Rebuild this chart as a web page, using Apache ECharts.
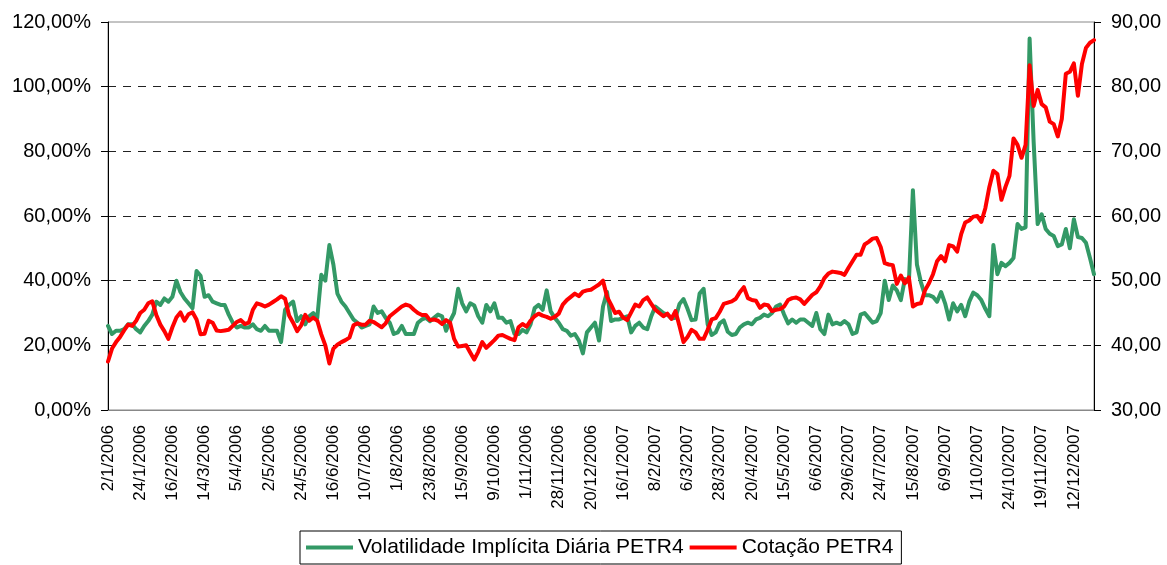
<!DOCTYPE html>
<html>
<head>
<meta charset="utf-8">
<title>Volatilidade x Cotação PETR4</title>
<script src="https://cdn.jsdelivr.net/npm/echarts@6/dist/echarts.min.js"></script>
<style>
  html, body { margin: 0; padding: 0; background: #fff; }
  #main { width: 1167px; height: 565px; }
</style>
</head>
<body>
<div id="main"></div>
<script>
// rótulos do eixo x (um a cada 16 pregões)
const tickDates = [
  '2/1/2006', '24/1/2006', '16/2/2006', '14/3/2006', '5/4/2006', '2/5/2006', '24/5/2006', '16/6/2006',
  '10/7/2006', '1/8/2006', '23/8/2006', '15/9/2006', '9/10/2006', '1/11/2006', '28/11/2006', '20/12/2006',
  '16/1/2007', '8/2/2007', '6/3/2007', '28/3/2007', '20/4/2007', '15/5/2007', '6/6/2007', '29/6/2007',
  '24/7/2007', '15/8/2007', '6/9/2007', '1/10/2007', '24/10/2007', '19/11/2007', '12/12/2007'
];
// pontos a cada 2 pregões -> 8 pontos entre rótulos
const pointsPerTick = 8;

// volatilidade implícita diária (%)
const volatilidade = [
  26, 23.5, 24.5, 24.5, 25, 26.5, 26.5, 25, 24, 26, 27.5, 29.5, 33.5, 32.5, 34.5, 33.5,
  35, 40, 36.5, 34.5, 33, 31.5, 43, 41.5, 35, 35.5, 33.5, 33, 32.5, 32.5, 29.5, 27,
  25.5, 26, 25.5, 25.5, 26.5, 25, 24.5, 26, 24.5, 24.5, 24.5, 21, 31, 32.5, 33.5, 27.5,
  29, 26.5, 29, 30, 28.5, 41.8, 40, 51, 45, 36, 33.5, 32, 30, 28, 27, 25.5,
  26, 26.5, 32, 30, 30.5, 28.5, 27, 23.5, 24, 26, 23.5, 23.5, 23.5, 27, 28, 28.5,
  27.5, 28.5, 29.5, 29, 24.5, 27.5, 30, 37.5, 33, 30.5, 33, 32.3, 29, 27, 32.5, 30.5,
  33, 28.5, 28.5, 27, 27.5, 23.5, 23.5, 24.8, 24, 26.5, 31.5, 32.5, 31, 37, 30.5, 28.5,
  27, 25, 24.5, 23, 23.5, 21.5, 17.5, 24, 25.5, 27, 21.5, 32, 36.5, 27.5, 28, 28,
  28.5, 29, 24, 26, 27, 25.5, 25, 29, 32, 31, 30, 29.5, 28.3, 28.5, 32.8, 34.3,
  31.3, 27.8, 28, 36, 37.5, 26.5, 23.2, 24, 26.8, 27.7, 24.2, 23.2, 23.5, 25.5, 26.5, 27,
  26.5, 28, 28.5, 29.5, 29, 30, 32, 32.6, 29.5, 26.8, 28, 27, 28, 28, 27, 26,
  30, 25, 23.5, 29.5, 26.5, 27, 26.5, 27.5, 26.5, 23.5, 24, 29.5, 30, 28.5, 27, 27.5,
  30, 40, 34, 38.5, 37, 34, 40.5, 39.5, 68, 45, 39.5, 35.5, 35.5, 35, 33.5, 36.5,
  33, 28, 33, 30.5, 32.5, 29, 33.5, 36.3, 35.5, 34, 31.3, 29, 51, 42, 45.5, 44.5,
  45.5, 47, 57.5, 56, 56.5, 114.9, 83, 57.5, 60.5, 56, 54.5, 53.8, 50.7, 51.2, 56, 50,
  59, 53.5, 53.2, 51.7, 47, 42
];

// cotação PETR4 (R$)
const cotacao = [
  37.5, 39.5, 40.5, 41.3, 42.3, 43.2, 43, 43.8, 45, 45.5, 46.5, 46.8, 44.7, 43.2, 42.2, 41,
  42.8, 44.3, 45.1, 43.8, 44.8, 45.1, 44, 41.7, 41.8, 43.8, 43.5, 42.3, 42.2, 42.3, 42.4, 43,
  43.6, 43.9, 43.3, 43.5, 45.5, 46.5, 46.3, 46, 46.3, 46.7, 47.1, 47.6, 47.2, 44.6, 43.5, 42.2,
  43.1, 44.7, 43.8, 44.3, 43.8, 41.7, 40, 37.2, 39.5, 40.1, 40.5, 40.8, 41.2, 43.1, 43.4, 43.2,
  43.2, 43.8, 43.6, 43.2, 42.8, 43.4, 44.5, 45, 45.5, 46, 46.3, 46.1, 45.5, 45, 44.7, 44.7,
  43.9, 44, 43.8, 43.3, 43.9, 43.5, 41, 39.8, 39.9, 40, 38.9, 37.8, 39, 40.5, 39.6, 40.2,
  40.8, 41.5, 41.6, 41.3, 41, 40.8, 42.8, 43.3, 42.9, 43.8, 44.5, 44.9, 44.6, 44.4, 44.1, 44.4,
  44.9, 46.3, 47, 47.5, 48, 47.6, 48.3, 48.5, 48.6, 49, 49.4, 50, 47.5, 46.3, 45, 45.2,
  44.3, 43.9, 45.1, 46.3, 46, 47, 47.4, 46.4, 45.5, 45, 44.5, 44.9, 44.1, 45.3, 43, 40.5,
  41.3, 42.4, 42, 41, 41, 42.4, 44, 44.2, 45.2, 46.4, 46.6, 46.8, 47.2, 48.2, 49, 47.3,
  47, 46.9, 45.8, 46.3, 46.2, 45.3, 45.5, 45.6, 46, 47, 47.3, 47.4, 47.1, 46.4, 47.1, 47.8,
  48.2, 49.1, 50.4, 51.1, 51.4, 51.3, 51.2, 50.9, 52, 53, 54, 54, 55.6, 56, 56.5, 56.6,
  55.2, 52.7, 52.5, 52.4, 49.5, 50.8, 49.6, 50.5, 46, 46.4, 46.5, 48.5, 49.6, 51, 53, 53.8,
  53, 55.5, 55.3, 54.5, 57.2, 59, 59.3, 59.9, 60, 59.1, 61.2, 64.5, 67, 66.5, 62.5, 64.5,
  66.2, 72, 71, 69, 71, 83.3, 77, 79.5, 77.3, 76.8, 74.6, 74.2, 72.3, 75, 82, 82.3,
  83.6, 78.6, 83.5, 86, 86.8, 87.2
];

const categories = cotacao.map((v, i) =>
  i % pointsPerTick === 0 ? (tickDates[i / pointsPerTick] || '') : ''
);

const fmt = (v) => v.toFixed(2).replace('.', ',');
const font = 'Liberation Sans, Arial, Helvetica, sans-serif';

const chart = echarts.init(document.getElementById('main'));
chart.setOption({
  animation: false,
  textStyle: { fontFamily: font },
  grid: {
    left: 108, right: 73, top: 22, bottom: 155,
    show: true, borderColor: '#888', borderWidth: 1
  },
  legend: {
    left: 300, top: 531,
    padding: [6, 8, 6, 6],
    itemGap: 6, itemWidth: 47, itemHeight: 4,
    icon: 'rect',
    borderColor: '#000', borderWidth: 1,
    textStyle: { fontSize: 21, color: '#000', fontFamily: font },
    data: ['Volatilidade Implícita Diária PETR4', 'Cotação PETR4']
  },
  xAxis: {
    type: 'category',
    data: categories,
    boundaryGap: false,
    axisLine: { lineStyle: { color: '#888' } },
    axisTick: { show: false },
    axisLabel: { interval: pointsPerTick - 1, rotate: 90, fontSize: 17, color: '#000', margin: 15 }
  },
  yAxis: [
    {
      type: 'value', position: 'left',
      min: 0, max: 120, interval: 20,
      axisLine: { show: true, lineStyle: { color: '#000' } },
      axisTick: { show: true, length: 7, lineStyle: { color: '#000' } },
      axisLabel: { formatter: (v) => fmt(v) + '%', fontSize: 20, color: '#000', margin: 17 },
      splitLine: {
        lineStyle: {
          type: [8, 7], width: 1,
          // sem linha tracejada no 0% e no 120% (borda)
          color: ['transparent', '#222', '#222', '#222', '#222', '#222', 'transparent']
        }
      }
    },
    {
      type: 'value', position: 'right',
      min: 30, max: 90, interval: 10,
      axisLine: { show: true, lineStyle: { color: '#000' } },
      axisTick: { show: true, length: 7, lineStyle: { color: '#000' } },
      axisLabel: { formatter: fmt, fontSize: 20, color: '#000', margin: 17 },
      splitLine: { show: false }
    }
  ],
  series: [
    {
      name: 'Volatilidade Implícita Diária PETR4',
      type: 'line',
      yAxisIndex: 0,
      data: volatilidade,
      showSymbol: false,
      color: '#339966',
      lineStyle: { width: 4, color: '#339966', join: 'round', cap: 'round' }
    },
    {
      name: 'Cotação PETR4',
      type: 'line',
      yAxisIndex: 1,
      data: cotacao,
      showSymbol: false,
      color: '#ff0000',
      lineStyle: { width: 4, color: '#ff0000', join: 'round', cap: 'round' }
    }
  ]
});
</script>
</body>
</html>
